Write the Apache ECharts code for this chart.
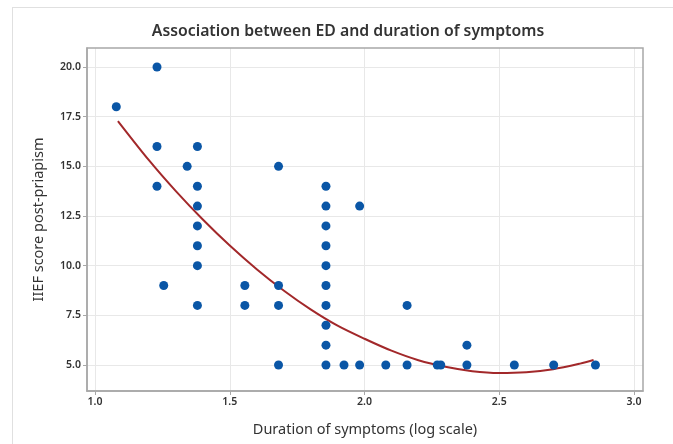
<!DOCTYPE html>
<html>
<head>
<meta charset="utf-8">
<script src="https://cdn.jsdelivr.net/npm/echarts@6/dist/echarts.min.js"></script>
<style>
html,body{margin:0;padding:0;background:#fff;}
#frame{position:absolute;left:12px;top:7px;width:661px;height:437px;border-left:1px solid #e0e0e0;border-top:1px solid #e0e0e0;box-sizing:border-box;}
#chart{position:absolute;left:0;top:0;width:673px;height:444px;}
</style>
</head>
<body>
<div id="frame"></div>
<div id="chart"></div>
<script>
// Duration of symptoms (log10 hours) and IIEF score post-priapism
var durationLog = [1.079, 1.230, 1.230, 1.230, 1.255, 1.342, 1.380, 1.380, 1.380, 1.380, 1.380, 1.380, 1.380,
  1.556, 1.556, 1.681, 1.681, 1.681, 1.681,
  1.857, 1.857, 1.857, 1.857, 1.857, 1.857, 1.857, 1.857, 1.857, 1.857,
  1.924, 1.982, 1.982, 2.079, 2.158, 2.158, 2.270, 2.283, 2.380, 2.380, 2.556, 2.702, 2.857];
var iiefScore = [18, 20, 16, 14, 9, 15, 16, 14, 13, 12, 11, 10, 8,
  9, 8, 15, 9, 8, 5,
  14, 13, 12, 11, 10, 9, 8, 7, 6, 5,
  5, 13, 5, 5, 8, 5, 5, 5, 6, 5, 5, 5, 5];
// fitted curve
var fitX = [1.085, 1.2, 1.3, 1.4, 1.5, 1.6, 1.7, 1.8, 1.9, 2.0, 2.1, 2.2, 2.3, 2.4, 2.5, 2.6, 2.7, 2.8, 2.85];
var fitY = [17.28, 15.31, 13.75, 12.32, 11.01, 9.82, 8.75, 7.80, 6.98, 6.32, 5.72, 5.24, 4.91, 4.69, 4.60, 4.64, 4.79, 5.07, 5.25];
var xTicks = [1.0, 1.5, 2.0, 2.5, 3.0];
var yTicks = [5.0, 7.5, 10.0, 12.5, 15.0, 17.5, 20.0];

var points = durationLog.map(function (x, i) { return [x, iiefScore[i]]; });
var fitLine = fitX.map(function (x, i) { return [x, fitY[i]]; });

var chart = echarts.init(document.getElementById('chart'));
var FONT = 'Noto Sans';
chart.setOption({
  animation: false,
  title: {
    text: 'Association between ED and duration of symptoms',
    left: 343, top: 18, textAlign: 'center',
    textStyle: { fontFamily: FONT, fontSize: 15.8, fontWeight: 600, color: '#333' }
  },
  grid: { left: 87, top: 48, right: 30, bottom: 53 },
  xAxis: {
    type: 'value', min: 0.9703, max: 3.0334,
    name: 'Duration of symptoms (log scale)', nameLocation: 'middle', nameGap: 31,
    nameTextStyle: { fontFamily: FONT, fontSize: 14.5, color: '#333' },
    axisLine: { show: true, onZero: false, lineStyle: { color: '#a8a8a8', width: 1.5 } },
    axisTick: { show: true, length: 4, customValues: xTicks, lineStyle: { color: '#a8a8a8' } },
    axisLabel: { customValues: xTicks, margin: 6, fontFamily: FONT, fontSize: 10.5, fontWeight: 600, color: '#333',
      formatter: function (v) { return v.toFixed(1); } },
    splitLine: { show: true, lineStyle: { color: '#e8e8e8', width: 1 } }
  },
  yAxis: {
    type: 'value', min: 3.691, max: 20.956,
    name: 'IIEF score post-priapism', nameLocation: 'middle', nameGap: 41,
    nameTextStyle: { fontFamily: FONT, fontSize: 14.5, color: '#333' },
    axisLine: { show: true, onZero: false, lineStyle: { color: '#a8a8a8', width: 1.5 } },
    axisTick: { show: true, length: 4, customValues: yTicks, lineStyle: { color: '#a8a8a8' } },
    axisLabel: { customValues: yTicks, margin: 6, fontFamily: FONT, fontSize: 10.5, fontWeight: 600, color: '#333',
      formatter: function (v) { return v.toFixed(1); } },
    splitLine: { show: true, lineStyle: { color: '#e8e8e8', width: 1 } }
  },
  series: [
    {
      type: 'line', data: fitLine, showSymbol: false, smooth: 0.3,
      lineStyle: { color: '#a2282a', width: 2 }, z: 3
    },
    {
      type: 'scatter', data: points, symbolSize: 9,
      itemStyle: { color: '#0a56a6', opacity: 1 }, z: 4
    }
  ],
  graphic: [{
    type: 'rect', shape: { x: 87, y: 48, width: 556, height: 343 },
    style: { fill: 'none', stroke: '#a8a8a8', lineWidth: 1.5 }, silent: true, z: 10
  }]
});
</script>
</body>
</html>
